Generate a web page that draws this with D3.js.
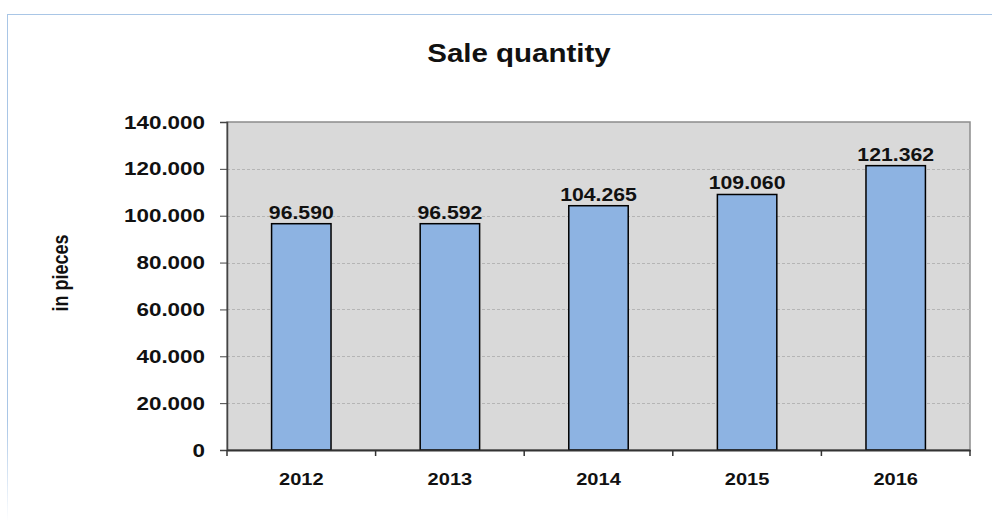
<!DOCTYPE html>
<html lang="en">
<head>
<meta charset="utf-8">
<script src="https://d3js.org/d3.v7.min.js"></script>
<style>
  body { margin: 0; background: #fff; }
  text { font-family: "Liberation Sans", Arial, sans-serif; }
</style>
</head>
<body>
<script>
// data
const years = ["2012", "2013", "2014", "2015", "2016"];
const quantities = [96590, 96592, 104265, 109060, 121362];
const yTicks = [0, 20000, 40000, 60000, 80000, 100000, 120000, 140000];

const width = 992, height = 522;
const plot = {left: 227, top: 122, right: 970, bottom: 450};
const sx = 1.18; // text in the original is a bit wide

const fmt = v => v === 0 ? "0" : d3.format(",.0f")(v).replace(/,/g, ".");

const svg = d3.select("body").append("svg")
  .attr("width", width)
  .attr("height", height);

// outer frame (top and left edges, left fades out)
const grad = svg.append("defs").append("linearGradient")
  .attr("id", "fade").attr("x1", 0).attr("y1", 0).attr("x2", 0).attr("y2", 1);
grad.append("stop").attr("offset", "0%").attr("stop-color", "#a9c6e6");
grad.append("stop").attr("offset", "80%").attr("stop-color", "#a9c6e6");
grad.append("stop").attr("offset", "100%").attr("stop-color", "#ffffff");
svg.append("line").attr("x1", 7).attr("x2", width).attr("y1", 14.5).attr("y2", 14.5)
  .attr("stroke", "#a9c6e6").attr("stroke-width", 1);
svg.append("rect").attr("x", 7).attr("y", 14).attr("width", 1).attr("height", 508)
  .attr("fill", "url(#fade)");

const x = d3.scaleBand().domain(years).range([plot.left, plot.right]).paddingInner(0).paddingOuter(0);
const y = d3.scaleLinear().domain([0, 140000]).range([plot.bottom, plot.top]);

// plot background
svg.append("rect")
  .attr("x", plot.left).attr("y", plot.top)
  .attr("width", plot.right - plot.left).attr("height", plot.bottom - plot.top)
  .attr("fill", "#d9d9d9")
  .attr("stroke", "#8c8c8c").attr("stroke-width", 1.5);

// gridlines
svg.append("g").selectAll("line")
  .data(yTicks.filter(d => d > 0 && d < 140000))
  .join("line")
  .attr("x1", plot.left).attr("x2", plot.right)
  .attr("y1", d => Math.round(y(d)) + 0.5).attr("y2", d => Math.round(y(d)) + 0.5)
  .attr("stroke", "#b5b5b5").attr("stroke-dasharray", "3,2");

// bars
const barW = x.bandwidth() * 0.4;
svg.append("g").selectAll("rect")
  .data(years)
  .join("rect")
  .attr("x", d => x(d) + (x.bandwidth() - barW) / 2)
  .attr("y", (d, i) => y(quantities[i]))
  .attr("width", barW)
  .attr("height", (d, i) => y(0) - y(quantities[i]))
  .attr("fill", "#8db3e2")
  .attr("stroke", "#000").attr("stroke-width", 1.5);

// value labels
svg.append("g").selectAll("text")
  .data(years)
  .join("text")
  .attr("transform", (d, i) => `translate(${x(d) + x.bandwidth() / 2},${y(quantities[i]) - 5}) scale(${sx},1)`)
  .attr("text-anchor", "middle")
  .attr("font-size", 18).attr("font-weight", "bold").attr("fill", "#111")
  .text((d, i) => fmt(quantities[i]));

// y axis
const yAxis = svg.append("g")
  .attr("transform", `translate(${plot.left},0)`)
  .call(d3.axisLeft(y).tickValues(yTicks).tickFormat(fmt).tickSize(7).tickPadding(15));
yAxis.select(".domain").attr("stroke", "#444").attr("stroke-width", 1.5);
yAxis.selectAll(".tick line").attr("stroke", "#444");
yAxis.selectAll("text")
  .attr("x", 0)
  .attr("transform", `translate(-22,0) scale(${sx},1)`)
  .attr("font-size", 19).attr("font-weight", "bold").attr("fill", "#111")
  .attr("font-family", "Liberation Sans, Arial, sans-serif");

// x axis
const xAxis = svg.append("g")
  .attr("transform", `translate(0,${plot.bottom})`)
  .call(d3.axisBottom(x).tickSize(0).tickPadding(23));
xAxis.select(".domain").attr("stroke", "#333").attr("stroke-width", 2);
xAxis.selectAll("text")
  .attr("transform", `scale(${sx},1)`)
  .attr("font-size", 17).attr("font-weight", "bold").attr("fill", "#111")
  .attr("font-family", "Liberation Sans, Arial, sans-serif");
// category boundary ticks
svg.append("g").selectAll("line")
  .data(years.concat(["end"]))
  .join("line")
  .attr("x1", (d, i) => plot.left + i * x.step()).attr("x2", (d, i) => plot.left + i * x.step())
  .attr("y1", plot.bottom).attr("y2", plot.bottom + 6)
  .attr("stroke", "#333").attr("stroke-width", 1.5);

// title
svg.append("text")
  .attr("transform", `translate(519,62) scale(${sx},1)`)
  .attr("text-anchor", "middle")
  .attr("font-size", 25).attr("font-weight", "bold").attr("fill", "#111")
  .text("Sale quantity");

// y label
svg.append("text")
  .attr("transform", `translate(68,273) rotate(-90) scale(1,${sx})`)
  .attr("text-anchor", "middle")
  .attr("font-size", 18).attr("font-weight", "bold").attr("fill", "#111")
  .text("in pieces");
</script>
</body>
</html>
